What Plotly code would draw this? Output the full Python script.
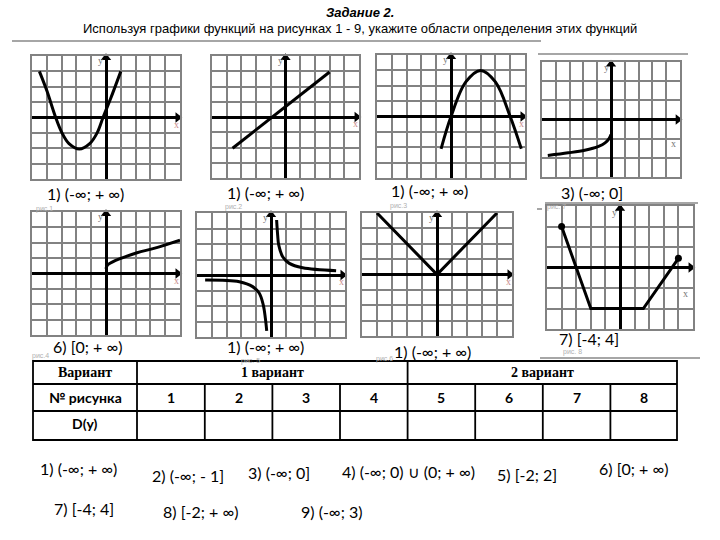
import plotly.graph_objects as go

W, H = 720, 540

# ---------------- data ----------------
title_text = "Задание 2."
subtitle_text = "Используя графики функций на рисунках 1 - 9, укажите области определения этих функций"

g1_x = [-4.5, -4.0, -3.4, -3.0, -2.5, -1.8, -1.1, -0.6, -0.2, 0.3, 1.0]
g1_y = [3.0, 1.75, 0.0, -0.95, -1.7, -2.05, -1.7, -1.0, 0.0, 1.2, 3.0]
g2_x = [-3.6, 3.0]
g2_y = [-2.05, 2.95]
g3_x = [-0.67, 0.0, 1.0, 2.0, 3.0, 4.0, 4.75]
g3_y = [-2.1, 0.0, 2.25, 3.0, 2.25, 0.0, -2.1]
g4_x = [-4.58, -3.1, -1.9, -0.9, -0.43, -0.14, 0.0]
g4_y = [-1.88, -1.74, -1.6, -1.4, -1.22, -1.0, -0.78]
g5_x = [0.0, 0.1, 0.45, 1.0, 2.1, 3.3, 5.0]
g5_y = [0.3, 0.55, 0.76, 0.98, 1.35, 1.65, 2.17]
g6r_x = [0.38, 0.45, 0.52, 0.79, 1.24, 2.14, 4.4]
g6r_y = [3.55, 2.58, 1.94, 1.18, 0.75, 0.47, 0.28]
g6l_x = [-4.45, -2.14, -1.24, -0.79, -0.52, -0.38, -0.29]
g6l_y = [-0.32, -0.43, -0.75, -1.18, -1.94, -2.8, -3.6]
g7_x = [-4, 0, 4]
g7_y = [4, 0, 4]
g8_x = [-4, -2, 1.6, 4]
g8_y = [2, -2, -2, 0.45]

graph_answers = ["1) (-∞; + ∞)", "1) (-∞; + ∞)", "1) (-∞; + ∞)", "3) (-∞; 0]",
                 "6) [0; + ∞)", "1) (-∞; + ∞)", "1) (-∞; + ∞)", "7) [-4; 4]"]
graph_captions = ["рис.1", "рис.2", "рис.3", "рис. 7", "рис.4", "рис. 5", "рис.6", "рис. 8"]

table_row_heads = ["Вариант", "№ рисунка", "D(y)"]
table_variants = ["1 вариант", "2 вариант"]
table_numbers = ["1", "2", "3", "4", "5", "6", "7", "8"]

options_row1 = ["1) (-∞; + ∞)", "2) (-∞; - 1]", "3) (-∞; 0]", "4) (-∞; 0) ∪ (0; + ∞)", "5) [-2; 2]", "6) [0; + ∞)"]
options_row2 = ["7) [-4; 4]", "8) [-2; + ∞)", "9) (-∞; 3)"]

# ---------------- layout helpers ----------------
def fx(px):
    return px / W

def fy(py):
    return 1 - py / H

def txt(px, py, text, family, size, color="black"):
    return dict(x=fx(px), y=fy(py), xref="paper", yref="paper", text=text, showarrow=False,
                xanchor="center", yanchor="middle", font=dict(family=family, size=size, color=color))

# pixel boxes: (left, right, top, bottom, yhalf)
boxes = [
    (32, 180, 56, 179, 4),
    (212, 359, 56, 178, 4),
    (377, 525, 55, 178, 4),
    (542, 680, 62, 177, 3),
    (32, 180, 212, 335, 4),
    (197, 345, 213, 337, 4),
    (362, 512, 213, 336, 4),
    (547, 693, 206, 329, 3),
]
answer_pos = [(85, 193), (265, 192), (429, 191), (592, 192),
              (88, 346), (265, 346), (432, 351), (589, 338)]
caption_pos = [(44, 209), (233, 207), (398, 206), (556, 207),
               (40, 356), (250, 361), (384, 359), (572, 352)]

series = [
    [(g1_x, g1_y, "spline")],
    [(g2_x, g2_y, "linear")],
    [(g3_x, g3_y, "spline")],
    [(g4_x, g4_y, "spline")],
    [(g5_x, g5_y, "spline")],
    [(g6r_x, g6r_y, "spline"), (g6l_x, g6l_y, "spline")],
    [(g7_x, g7_y, "linear")],
    [(g8_x, g8_y, "linear")],
]

fig = go.Figure()
annotations = []
shapes = []
GRID = "#828282"

for i, (l, r, t, b, yh) in enumerate(boxes):
    n = i + 1
    xa = "x" if n == 1 else f"x{n}"
    ya = "y" if n == 1 else f"y{n}"
    xkey = "xaxis" if n == 1 else f"xaxis{n}"
    ykey = "yaxis" if n == 1 else f"yaxis{n}"
    common = dict(dtick=1, showgrid=True, gridcolor=GRID, gridwidth=1.5,
                  zeroline=True, zerolinecolor="black", zerolinewidth=3,
                  showline=True, linecolor=GRID, linewidth=1.5, mirror=True,
                  showticklabels=False, ticks="", fixedrange=True)
    fig.layout[xkey] = dict(domain=[fx(l), fx(r)], anchor=ya, range=[-5, 5], **common)
    fig.layout[ykey] = dict(domain=[fy(b), fy(t)], anchor=xa, range=[-yh, yh], **common)
    for sx, sy, shp in series[i]:
        line = dict(color="black", width=3, shape=shp)
        if shp == "spline":
            line["smoothing"] = 1.0
        fig.add_trace(go.Scatter(x=sx, y=sy, mode="lines", xaxis=xa, yaxis=ya, line=line,
                                 showlegend=False, hoverinfo="skip"))
    if n == 8:
        fig.add_trace(go.Scatter(x=[g8_x[0], g8_x[-1]], y=[g8_y[0], g8_y[-1]], mode="markers",
                                 xaxis=xa, yaxis=ya, marker=dict(color="black", size=7),
                                 showlegend=False, hoverinfo="skip"))
    # axis arrows
    fig.add_trace(go.Scatter(x=[4.85, 0], y=[0, yh - 0.12], mode="markers", xaxis=xa, yaxis=ya,
                             marker=dict(color="black", size=9, symbol=["triangle-right", "triangle-up"]),
                             cliponaxis=False, showlegend=False, hoverinfo="skip"))
    # axis letters
    annotations.append(dict(x=-0.35, y=yh - 0.3, xref=xa, yref=ya, text="y", showarrow=False,
                            font=dict(family="Liberation Serif", size=10, color="#777")))
    if yh == 3:
        annotations.append(dict(x=4.5, y=-1.25, xref=xa, yref=ya, text="x", showarrow=False,
                                font=dict(family="Liberation Serif", size=10, color="#777")))
    else:
        annotations.append(dict(x=4.75, y=-0.45, xref=xa, yref=ya, text="x", showarrow=False,
                                font=dict(family="Liberation Serif", size=10, color="#c98b8b")))
    cx, cy = caption_pos[i]
    annotations.append(txt(cx, cy, graph_captions[i], "Liberation Sans", 7, "#b0b0b0"))
    ax_, ay_ = answer_pos[i]
    annotations.append(txt(ax_, ay_, graph_answers[i], "Lato", 16))

# title
annotations.append(txt(360, 12, "<b><i>" + title_text + "</i></b>", "Liberation Sans", 13))
annotations.append(txt(360, 29, subtitle_text, "Liberation Sans", 13))

# decorative gray rules
for x0, x1, yy in [(12, 541, 41), (538, 688, 54), (545, 698, 203), (537, 542, 209), (540, 700, 358)]:
    shapes.append(dict(type="line", xref="paper", yref="paper", x0=fx(x0), x1=fx(x1), y0=fy(yy), y1=fy(yy),
                       line=dict(color="#888", width=1.5)))

# table
tl, tr = 33, 677
col_lines = [137, 204.8, 272.4, 340, 407.6, 475.2, 542.8, 610.4]
rows = [361, 384, 411, 440]
TW = 1.8
shapes.append(dict(type="rect", xref="paper", yref="paper", x0=fx(tl), x1=fx(tr), y0=fy(rows[3]), y1=fy(rows[0]),
                   line=dict(color="black", width=TW)))
for yy in rows[1:3]:
    shapes.append(dict(type="line", xref="paper", yref="paper", x0=fx(tl), x1=fx(tr), y0=fy(yy), y1=fy(yy),
                       line=dict(color="black", width=TW)))
for k, xx in enumerate(col_lines):
    top = rows[0] if k in (0, 4) else rows[1]
    shapes.append(dict(type="line", xref="paper", yref="paper", x0=fx(xx), x1=fx(xx), y0=fy(rows[3]), y1=fy(top),
                       line=dict(color="black", width=TW)))

row_mid = [(rows[j] + rows[j + 1]) / 2 for j in range(3)]
head_x = (tl + col_lines[0]) / 2
annotations.append(txt(head_x, row_mid[0], "<b>" + table_row_heads[0] + "</b>", "Liberation Serif", 14))
for j, t_ in enumerate(table_row_heads[1:]):
    annotations.append(txt(head_x, row_mid[j + 1] - (2 if j == 1 else 0), "<b>" + t_ + "</b>", "Lato", 14))
var_spans = [(col_lines[0], col_lines[4]), (col_lines[4], tr)]
for (a, b), t_ in zip(var_spans, table_variants):
    annotations.append(txt((a + b) / 2, row_mid[0], "<b>" + t_ + "</b>", "Liberation Serif", 14))
edges = col_lines + [tr]
for k, t_ in enumerate(table_numbers):
    annotations.append(txt((edges[k] + edges[k + 1]) / 2, row_mid[1], "<b>" + t_ + "</b>", "Lato", 14))

# answer options
opt1_pos = [(78, 468), (188, 475), (279, 472), (408, 471), (527, 474), (634, 468)]
opt2_pos = [(84, 508), (201, 511), (332, 511)]
for t_, (px, py) in list(zip(options_row1, opt1_pos)) + list(zip(options_row2, opt2_pos)):
    annotations.append(txt(px, py, t_, "Lato", 16))

fig.update_layout(width=W, height=H, margin=dict(l=0, r=0, t=0, b=0),
                  paper_bgcolor="white", plot_bgcolor="white",
                  annotations=annotations, shapes=shapes, showlegend=False)

fig.write_html("out.html")
